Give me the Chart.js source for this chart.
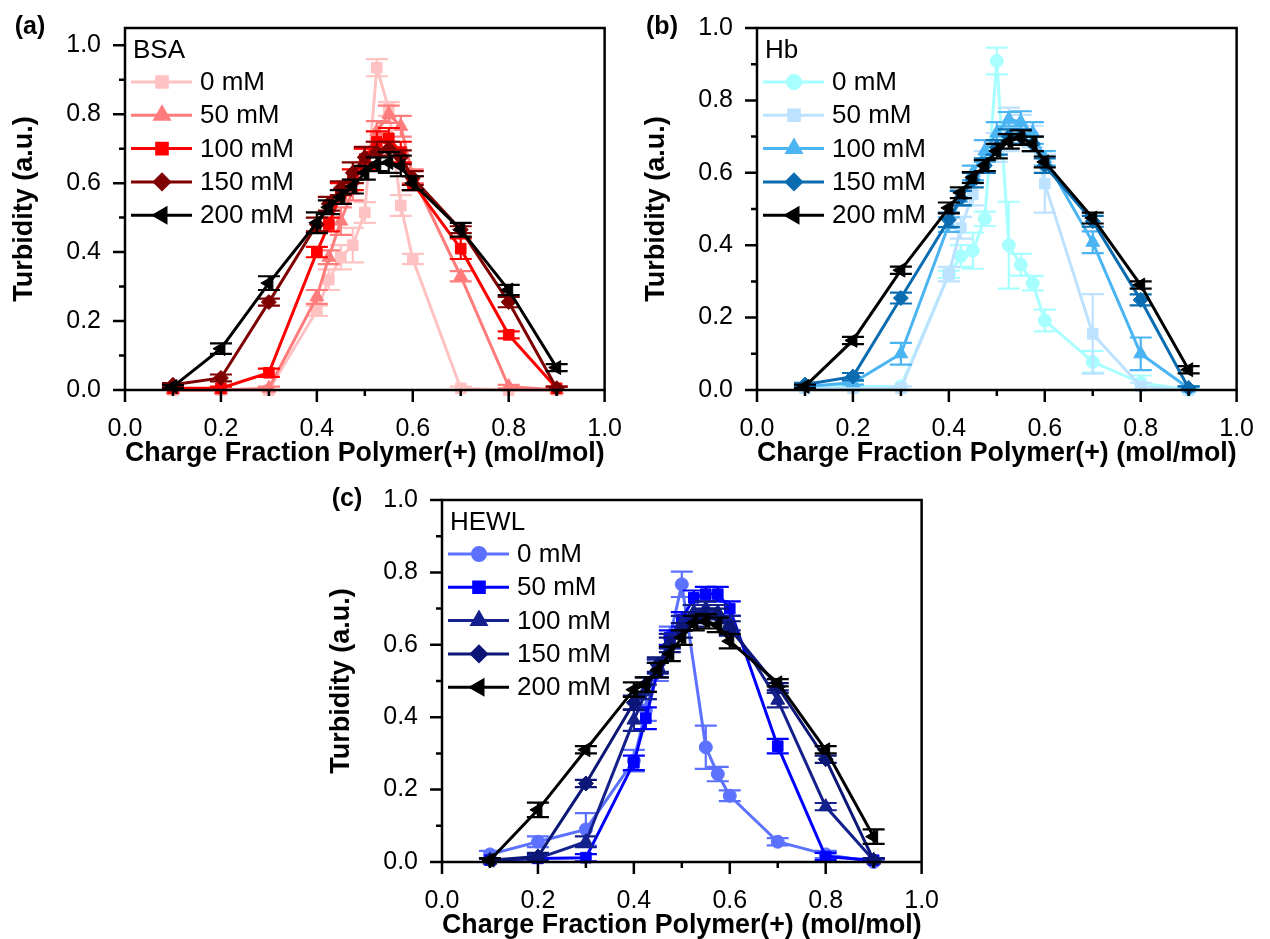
<!DOCTYPE html>
<html lang="en">
  <head>
    <meta charset="UTF-8" />
    <title>turbidity panels</title>
    <script src="https://cdn.jsdelivr.net/npm/chart.js@4/dist/chart.umd.min.js"></script>
    <style>
      html, body { margin: 0; padding: 0; background: #fff; overflow: hidden; }
      #wrap { position: relative; width: 1270px; height: 939px; background: #fff; }
      #wrap canvas { position: absolute; }
    </style>
  </head>
  <body>
    <div id="wrap">
      <canvas id="chartA" width="634" height="475" style="left:0px;top:0px"></canvas>
      <canvas id="chartB" width="634" height="475" style="left:632px;top:0px"></canvas>
      <canvas id="chartC" width="634" height="475" style="left:317px;top:472px"></canvas>
    </div>

    <script>
      // charge fraction polymer(+) -- same x for every series
      const fraction = [0.1, 0.2, 0.3, 0.4, 0.425, 0.45, 0.475, 0.5, 0.525, 0.55, 0.575, 0.6, 0.7, 0.8, 0.9];
      const saltLabels = ["0 mM", "50 mM", "100 mM", "150 mM", "200 mM"];
      const xTicks = [0, 0.1, 0.2, 0.3, 0.4, 0.5, 0.6, 0.7, 0.8, 0.9, 1.0];
      const yTicks = [0, 0.1, 0.2, 0.3, 0.4, 0.5, 0.6, 0.7, 0.8, 0.9, 1.0];

      // (a) BSA
      const bsa0 = [0.0, 0.0, 0.0, 0.23, 0.32, 0.385, 0.42, 0.515, 0.935, 0.815, 0.535, 0.38, 0.005, 0.0, 0.0];
      const bsa50 = [0.0, 0.0, 0.005, 0.27, 0.385, 0.49, 0.58, 0.67, 0.75, 0.8, 0.765, 0.62, 0.33, 0.01, 0.0];
      const bsa100 = [0.005, 0.005, 0.05, 0.4, 0.48, 0.57, 0.61, 0.67, 0.72, 0.73, 0.69, 0.6, 0.41, 0.16, 0.005];
      const bsa150 = [0.015, 0.035, 0.255, 0.48, 0.54, 0.585, 0.63, 0.675, 0.69, 0.7, 0.675, 0.615, 0.465, 0.255, 0.005];
      const bsa200 = [0.01, 0.12, 0.31, 0.485, 0.53, 0.56, 0.59, 0.63, 0.655, 0.66, 0.65, 0.6, 0.465, 0.29, 0.065];
      const bsa0Err = [0, 0, 0, 0.015, 0.03, 0.035, 0.05, 0.03, 0.025, 0.02, 0.03, 0.015, 0.005, 0, 0];
      const bsa50Err = [0, 0, 0.005, 0.02, 0.02, 0.04, 0.03, 0.03, 0.03, 0.025, 0.03, 0.02, 0.015, 0.005, 0];
      const bsa100Err = [0.005, 0.005, 0.012, 0.015, 0.02, 0.03, 0.03, 0.03, 0.03, 0.03, 0.03, 0.02, 0.03, 0.01, 0.005];
      const bsa150Err = [0.005, 0.01, 0.01, 0.02, 0.02, 0.02, 0.03, 0.03, 0.03, 0.02, 0.02, 0.02, 0.01, 0.015, 0.005];
      const bsa200Err = [0.005, 0.015, 0.02, 0.03, 0.02, 0.02, 0.02, 0.02, 0.02, 0.03, 0.03, 0.02, 0.02, 0.015, 0.01];

      // (b) Hb
      const hb0 = [0.01, 0.01, 0.01, 0.32, 0.37, 0.385, 0.473, 0.909, 0.4, 0.346, 0.295, 0.192, 0.078, 0.02, 0.0];
      const hb50 = [0.005, 0.005, 0.005, 0.32, 0.448, 0.54, 0.63, 0.67, 0.72, 0.72, 0.7, 0.57, 0.155, 0.01, 0.0];
      const hb100 = [0.01, 0.02, 0.1, 0.457, 0.53, 0.6, 0.66, 0.71, 0.748, 0.74, 0.71, 0.64, 0.408, 0.1, 0.005];
      const hb150 = [0.015, 0.037, 0.254, 0.47, 0.53, 0.58, 0.62, 0.67, 0.7, 0.7, 0.68, 0.62, 0.466, 0.249, 0.005];
      const hb200 = [0.01, 0.137, 0.331, 0.503, 0.545, 0.587, 0.62, 0.66, 0.687, 0.697, 0.68, 0.63, 0.475, 0.29, 0.056];
      const hb0Err = [0, 0, 0, 0.01, 0.03, 0.05, 0.02, 0.037, 0.12, 0.03, 0.02, 0.03, 0.03, 0.02, 0.005];
      const hb50Err = [0, 0, 0.005, 0.02, 0.03, 0.03, 0.03, 0.04, 0.06, 0.04, 0.03, 0.08, 0.11, 0.01, 0];
      const hb100Err = [0.005, 0.005, 0.03, 0.02, 0.02, 0.02, 0.03, 0.03, 0.02, 0.03, 0.03, 0.02, 0.03, 0.045, 0.005];
      const hb150Err = [0.005, 0.01, 0.015, 0.02, 0.02, 0.02, 0.02, 0.02, 0.02, 0.02, 0.02, 0.02, 0.015, 0.015, 0.005];
      const hb200Err = [0.005, 0.01, 0.01, 0.015, 0.015, 0.015, 0.015, 0.02, 0.02, 0.02, 0.02, 0.015, 0.015, 0.01, 0.01];

      // (c) HEWL
      const hewl0 = [0.021, 0.056, 0.09, 0.28, 0.42, 0.53, 0.62, 0.767, null, 0.317, 0.243, 0.183, 0.056, 0.021, 0.0];
      const hewl50 = [0.005, 0.01, 0.012, 0.274, 0.397, 0.53, 0.62, 0.67, 0.73, 0.74, 0.74, 0.7, 0.32, 0.015, 0.005];
      const hewl100 = [0.005, 0.01, 0.056, 0.392, 0.47, 0.54, 0.61, 0.66, 0.69, 0.7, 0.69, 0.66, 0.447, 0.153, 0.005];
      const hewl150 = [0.005, 0.015, 0.217, 0.44, 0.49, 0.545, 0.6, 0.64, 0.67, 0.68, 0.68, 0.645, 0.484, 0.284, 0.005];
      const hewl200 = [0.005, 0.144, 0.31, 0.476, 0.49, 0.53, 0.575, 0.62, 0.66, 0.665, 0.655, 0.61, 0.495, 0.31, 0.07];
      const hewl0Err = [0.01, 0.015, 0.045, 0.03, 0.03, 0.03, 0.03, 0.035, 0, 0.06, 0.02, 0.015, 0.01, 0.01, 0.005];
      const hewl50Err = [0.005, 0.01, 0.01, 0.02, 0.03, 0.02, 0.02, 0.02, 0.02, 0.02, 0.02, 0.02, 0.02, 0.01, 0.005];
      const hewl100Err = [0.005, 0.01, 0.015, 0.03, 0.02, 0.02, 0.02, 0.02, 0.02, 0.02, 0.02, 0.02, 0.02, 0.01, 0.005];
      const hewl150Err = [0.005, 0.01, 0.01, 0.02, 0.02, 0.02, 0.02, 0.02, 0.02, 0.02, 0.02, 0.02, 0.01, 0.01, 0.005];
      const hewl200Err = [0.005, 0.02, 0.01, 0.02, 0.02, 0.02, 0.02, 0.02, 0.02, 0.02, 0.02, 0.02, 0.01, 0.01, 0.02];

      //colors per panel
      const redColors = ["#FFC2C2", "#FF7C7C", "#FF0000", "#7F0000", "#000000"];
      const blueColors = ["#A8FFFF", "#BDE2FF", "#4BB4F2", "#0B6CB0", "#000000"];
      const navyColors = ["#5C72FF", "#0000FF", "#14218C", "#0B1676", "#000000"];

      //font
      const fontFamily = "'Liberation Sans', Arial, Helvetica, sans-serif";
      const tickfontsize = 25;
      const titlefontsize = 27;
      const legendfontsize = 26;

      const axisWidth = 2.5;
      const majorTick = 12;
      const minorTick = 6;
      const capHalf = 11;

      Chart.defaults.font.family = fontFamily;
      Chart.defaults.color = "#000";

      function toPoints(ys) {
        return fraction.map((x, i) => ({ x: x, y: ys[i] }));
      }

      // box + tick marks + panel letter + legend inside plot
      const framePlugin = {
        id: "frame",
        beforeDatasetDraw(chart, args) {
          // error bars of this dataset, drawn just under its line
          const ds = chart.data.datasets[args.index];
          const xs = chart.scales.x;
          const ys = chart.scales.y;
          const c = chart.ctx;
          c.save();
          c.strokeStyle = ds.borderColor;
          c.lineWidth = 2.2;
          ds.data.forEach((p, i) => {
            const e = ds.errors[i];
            if (p.y == null || !e) return;
            const px = xs.getPixelForValue(p.x);
            const top = ys.getPixelForValue(p.y + e);
            const bot = ys.getPixelForValue(Math.max(0, p.y - e));
            c.beginPath();
            c.moveTo(px, top);
            c.lineTo(px, bot);
            c.moveTo(px - capHalf, top);
            c.lineTo(px + capHalf, top);
            c.moveTo(px - capHalf, bot);
            c.lineTo(px + capHalf, bot);
            c.stroke();
          });
          c.restore();
        },
        afterDraw(chart) {
          const c = chart.ctx;
          const a = chart.chartArea;
          const xs = chart.scales.x;
          const ys = chart.scales.y;
          const opts = chart.options.plugins.frame;
          c.save();
          c.strokeStyle = "#000";
          c.lineWidth = axisWidth;
          c.strokeRect(a.left, a.top, a.right - a.left, a.bottom - a.top);

          c.beginPath();
          xTicks.forEach((v, i) => {
            const px = xs.getPixelForValue(v);
            c.moveTo(px, a.bottom);
            c.lineTo(px, a.bottom + (i % 2 === 0 ? majorTick : minorTick));
          });
          yTicks.forEach((v, i) => {
            const py = ys.getPixelForValue(v);
            c.moveTo(a.left, py);
            c.lineTo(a.left - (i % 2 === 0 ? majorTick : minorTick), py);
          });
          c.stroke();

          //panel letter
          c.fillStyle = "#000";
          c.font = "bold 25px " + fontFamily;
          c.textAlign = "center";
          c.textBaseline = "middle";
          c.fillText(opts.letter, a.left - 95, a.top - 1);

          //legend
          c.textAlign = "left";
          c.font = legendfontsize + "px " + fontFamily;
          c.fillText(opts.protein, a.left + 8, a.top + 23);
          chart.data.datasets.forEach((ds, i) => {
            const y = a.top + 54 + i * 33.3;
            c.strokeStyle = ds.borderColor;
            c.lineWidth = 3;
            c.beginPath();
            c.moveTo(a.left + 6, y);
            c.lineTo(a.left + 67, y);
            c.stroke();
            c.fillStyle = ds.borderColor;
            Chart.helpers.drawPoint(
              c,
              { pointStyle: ds.pointStyle, radius: ds.pointRadius, rotation: ds.pointRotation || 0, borderWidth: 1 },
              a.left + 37,
              y
            );
            c.fillStyle = "#000";
            c.fillText(ds.label, a.left + 75, y + 1);
          });
          c.restore();
        },
      };

      const styles = [
        { pointStyle: "rect", pointRadius: 7.5, pointRotation: 0 },
        { pointStyle: "triangle", pointRadius: 8, pointRotation: 0 },
        { pointStyle: "rect", pointRadius: 7.5, pointRotation: 0 },
        { pointStyle: "rectRot", pointRadius: 7.5, pointRotation: 0 },
        { pointStyle: "triangle", pointRadius: 8, pointRotation: -90 },
      ];

      function makeDatasets(series, errs, colors, pstyles) {
        return series.map((ys, i) => ({
          label: saltLabels[i],
          data: toPoints(ys),
          errors: errs[i],
          borderColor: colors[i],
          backgroundColor: colors[i],
          pointBackgroundColor: colors[i],
          pointBorderColor: colors[i],
          pointBorderWidth: 1,
          borderWidth: 3,
          pointStyle: pstyles[i].pointStyle,
          pointRadius: pstyles[i].pointRadius,
          pointRotation: pstyles[i].pointRotation,
          spanGaps: true,
          clip: false,
          order: series.length - i,
        }));
      }

      function makeConfig(datasets, yMax, letter, protein) {
        return {
          type: "line",
          data: { datasets: datasets },
          options: {
            responsive: false,
            animation: false,
            layout: { padding: { top: 28, right: 20, left: 0, bottom: 0 } },
            plugins: {
              legend: { display: false },
              tooltip: { enabled: false },
              frame: { letter: letter, protein: protein },
            },
            scales: {
              x: {
                type: "linear",
                min: 0,
                max: 1,
                grid: { display: false, drawTicks: true, tickLength: majorTick },
                border: { display: false },
                ticks: {
                  stepSize: 0.1,
                  autoSkip: false,
                  maxRotation: 0,
                  padding: 12,
                  font: { size: tickfontsize },
                  callback: (v) => (Math.round(v * 10) % 2 === 0 ? v.toFixed(1) : ""),
                },
                title: {
                  display: true,
                  text: "Charge Fraction Polymer(+) (mol/mol)",
                  font: { size: titlefontsize, weight: "bold" },
                  padding: { top: 0, bottom: 5 },
                },
                afterFit: (scale) => {
                  scale.height = 85;
                },
              },
              y: {
                min: 0,
                max: yMax,
                grid: { display: false, drawTicks: true, tickLength: majorTick },
                border: { display: false },
                ticks: {
                  stepSize: 0.1,
                  includeBounds: false,
                  autoSkip: false,
                  padding: 12,
                  font: { size: tickfontsize },
                  callback: (v) =>
                    v <= 1.0001 && Math.round(v * 10) % 2 === 0 ? v.toFixed(1) : "",
                },
                title: {
                  display: true,
                  text: "Turbidity (a.u.)",
                  font: { size: titlefontsize, weight: "bold" },
                  padding: { top: 8, bottom: 0 },
                },
                afterFit: (scale) => {
                  scale.width = 125;
                },
              },
            },
          },
          plugins: [framePlugin],
        };
      }

      const bsaSets = makeDatasets(
        [bsa0, bsa50, bsa100, bsa150, bsa200],
        [bsa0Err, bsa50Err, bsa100Err, bsa150Err, bsa200Err],
        redColors,
        styles
      );
      const circleStyles = [
        { pointStyle: "circle", pointRadius: 6.5, pointRotation: 0 },
        { pointStyle: "rect", pointRadius: 7.5, pointRotation: 0 },
        { pointStyle: "triangle", pointRadius: 8, pointRotation: 0 },
        { pointStyle: "rectRot", pointRadius: 7.5, pointRotation: 0 },
        { pointStyle: "triangle", pointRadius: 8, pointRotation: -90 },
      ];
      const hbSets = makeDatasets(
        [hb0, hb50, hb100, hb150, hb200],
        [hb0Err, hb50Err, hb100Err, hb150Err, hb200Err],
        blueColors,
        circleStyles
      );
      const hewlSets = makeDatasets(
        [hewl0, hewl50, hewl100, hewl150, hewl200],
        [hewl0Err, hewl50Err, hewl100Err, hewl150Err, hewl200Err],
        navyColors,
        circleStyles
      );

      const chartA = new Chart(document.getElementById("chartA"), makeConfig(bsaSets, 1.05, "(a)", "BSA"));
      const chartB = new Chart(document.getElementById("chartB"), makeConfig(hbSets, 1.0, "(b)", "Hb"));
      const chartC = new Chart(document.getElementById("chartC"), makeConfig(hewlSets, 1.0, "(c)", "HEWL"));
    </script>
  </body>
</html>
